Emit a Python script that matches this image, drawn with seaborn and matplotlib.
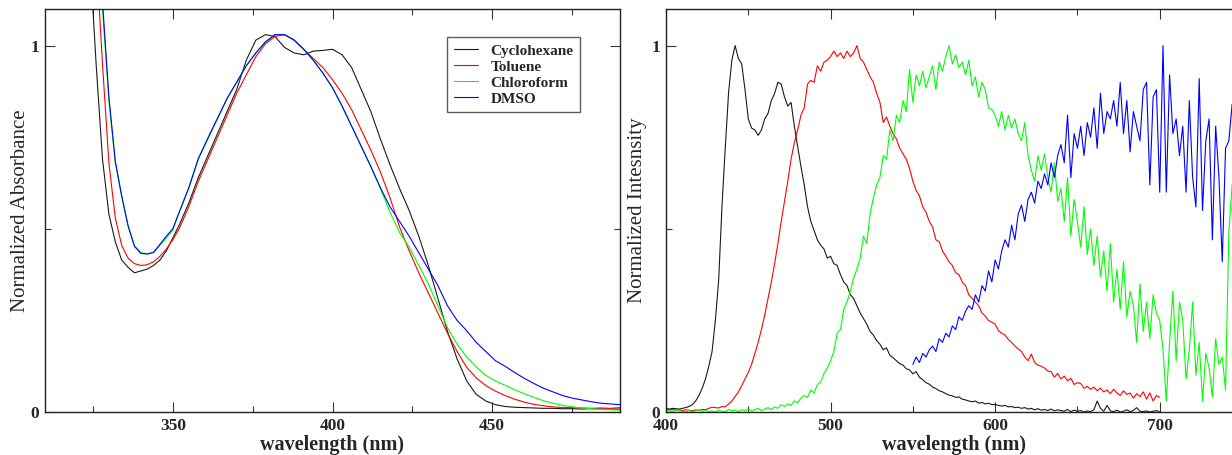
import numpy as np
import pandas as pd
import matplotlib
matplotlib.use("Agg")
import matplotlib.pyplot as plt
from matplotlib.ticker import FixedLocator, NullFormatter
import seaborn as sns

# ---------------------------------------------------------------- data
solvents = ["Cyclohexane", "Toluene", "Chloroform", "DMSO"]
colors = {"Cyclohexane": "#1a1a1a", "Toluene": "#ff0000",
          "Chloroform": "#00ff00", "DMSO": "#0000ff"}

# Absorption spectra (normalized): 2 nm steps up to 350 nm, then 3 nm steps
abs_wavelength = list(range(322, 351, 2)) + list(range(352, 491, 3))
abs_cyclohexane = [
    1.60, 1.25, 0.95, 0.69, 0.54, 0.465, 0.415, 0.395, 0.38, 0.385,
    0.39, 0.40, 0.415, 0.44, 0.475,
    0.51, 0.57, 0.64, 0.70, 0.76, 0.82, 0.88, 0.96, 1.015, 1.03,
    1.025, 0.995, 0.98, 0.975, 0.985, 0.987, 0.99, 0.975, 0.94, 0.88,
    0.82, 0.745, 0.675, 0.61, 0.55, 0.48, 0.40, 0.31, 0.22, 0.145,
    0.085, 0.048, 0.030, 0.020, 0.015, 0.013, 0.012, 0.011, 0.010, 0.010,
    0.009, 0.009, 0.008, 0.009, 0.008, 0.008, 0.008]
abs_toluene = [
    1.90, 1.60, 1.25, 0.95, 0.68, 0.53, 0.455, 0.42, 0.405, 0.40,
    0.402, 0.41, 0.425, 0.445, 0.47,
    0.50, 0.56, 0.63, 0.69, 0.75, 0.81, 0.87, 0.92, 0.97, 1.005,
    1.025, 1.03, 1.015, 0.99, 0.965, 0.94, 0.907, 0.87, 0.825, 0.77,
    0.715, 0.655, 0.585, 0.505, 0.44, 0.38, 0.325, 0.27, 0.215, 0.165,
    0.122, 0.093, 0.072, 0.057, 0.045, 0.035, 0.027, 0.021, 0.017, 0.014,
    0.012, 0.012, 0.011, 0.010, 0.011, 0.010, 0.012]
abs_chloroform = [
    2.00, 1.70, 1.40, 1.10, 0.85, 0.68, 0.59, 0.51, 0.455, 0.435,
    0.432, 0.435, 0.455, 0.475, 0.497,
    0.545, 0.61, 0.69, 0.745, 0.80, 0.855, 0.90, 0.945, 0.98, 1.01,
    1.03, 1.03, 1.015, 0.99, 0.96, 0.925, 0.885, 0.835, 0.78, 0.725,
    0.67, 0.61, 0.545, 0.49, 0.45, 0.40, 0.35, 0.29, 0.23, 0.185,
    0.150, 0.123, 0.100, 0.085, 0.073, 0.061, 0.050, 0.040, 0.031, 0.024,
    0.018, 0.014, 0.011, 0.009, 0.007, 0.006, 0.005]
abs_dmso = [
    2.00, 1.72, 1.42, 1.12, 0.86, 0.685, 0.59, 0.508, 0.452, 0.433,
    0.431, 0.436, 0.458, 0.48, 0.50,
    0.545, 0.612, 0.692, 0.748, 0.802, 0.856, 0.90, 0.945, 0.98, 1.01,
    1.03, 1.03, 1.015, 0.99, 0.96, 0.925, 0.885, 0.835, 0.78, 0.725,
    0.67, 0.612, 0.56, 0.52, 0.48, 0.435, 0.39, 0.345, 0.29, 0.25,
    0.222, 0.19, 0.165, 0.14, 0.125, 0.108, 0.092, 0.078, 0.065, 0.055,
    0.045, 0.038, 0.033, 0.028, 0.024, 0.022, 0.020]

# Emission spectra (normalized), sampled every 2 nm
em_step = 2
em_cyclohexane_start = 400
em_cyclohexane = [
    0.010, 0.008, 0.010, 0.009, 0.008, 0.010, 0.012, 0.015, 0.020, 0.030,
    0.045, 0.065, 0.090, 0.125, 0.165, 0.250, 0.360, 0.560, 0.720, 0.870,
    0.960, 1.000, 0.965, 0.950, 0.880, 0.800, 0.775, 0.770, 0.755, 0.770,
    0.800, 0.815, 0.850, 0.870, 0.900, 0.895, 0.860, 0.835, 0.845, 0.780,
    0.725, 0.670, 0.620, 0.560, 0.520, 0.495, 0.470, 0.455, 0.445, 0.420,
    0.425, 0.405, 0.400, 0.375, 0.355, 0.345, 0.320, 0.310, 0.290, 0.270,
    0.255, 0.240, 0.220, 0.210, 0.195, 0.185, 0.170, 0.175, 0.155, 0.148,
    0.140, 0.132, 0.128, 0.118, 0.115, 0.104, 0.110, 0.095, 0.088, 0.080,
    0.076, 0.068, 0.064, 0.058, 0.055, 0.050, 0.046, 0.044, 0.040, 0.041,
    0.035, 0.033, 0.030, 0.028, 0.030, 0.024, 0.026, 0.022, 0.024, 0.020,
    0.021, 0.018, 0.016, 0.018, 0.014, 0.015, 0.012, 0.013, 0.010, 0.012,
    0.008, 0.010, 0.006, 0.009, 0.005, 0.007, 0.004, 0.008, 0.003, 0.006,
    0.004, 0.002, 0.007, 0.001, 0.005, 0.002, 0.004, 0.000, 0.003, 0.001,
    0.006, 0.030, 0.010, 0.002, 0.018, 0.003, 0.001, 0.005, 0.000, 0.002,
    0.006, 0.001, 0.004, 0.012, 0.002, 0.001, 0.003, 0.000, 0.002, 0.004,
    0.000]
em_toluene_start = 400
em_toluene = [
    0.008, 0.006, 0.007, 0.005, 0.006, 0.004, 0.006, 0.005, 0.003, 0.006,
    0.004, 0.007, 0.006, 0.010, 0.013, 0.012, 0.011, 0.015, 0.014, 0.022,
    0.030, 0.042, 0.055, 0.072, 0.090, 0.108, 0.130, 0.160, 0.190, 0.225,
    0.265, 0.310, 0.355, 0.405, 0.460, 0.520, 0.575, 0.630, 0.690, 0.735,
    0.770, 0.810, 0.830, 0.895, 0.905, 0.900, 0.945, 0.930, 0.955, 0.960,
    0.970, 0.985, 0.970, 0.980, 0.965, 0.985, 0.970, 0.980, 1.000, 0.965,
    0.955, 0.935, 0.915, 0.900, 0.870, 0.845, 0.790, 0.805, 0.780, 0.760,
    0.745, 0.720, 0.705, 0.690, 0.665, 0.630, 0.605, 0.590, 0.560, 0.545,
    0.520, 0.505, 0.470, 0.465, 0.440, 0.425, 0.410, 0.400, 0.380, 0.375,
    0.355, 0.345, 0.320, 0.310, 0.300, 0.290, 0.270, 0.262, 0.250, 0.245,
    0.240, 0.222, 0.215, 0.210, 0.198, 0.190, 0.180, 0.172, 0.165, 0.150,
    0.140, 0.158, 0.135, 0.128, 0.125, 0.120, 0.112, 0.110, 0.095, 0.105,
    0.090, 0.098, 0.085, 0.092, 0.075, 0.080, 0.078, 0.065, 0.070, 0.062,
    0.068, 0.058, 0.065, 0.055, 0.060, 0.050, 0.062, 0.052, 0.045, 0.058,
    0.048, 0.052, 0.038, 0.050, 0.042, 0.055, 0.035, 0.052, 0.030, 0.045,
    0.040]
em_chloroform_start = 400
em_chloroform = [
    0.002, 0.004, 0.001, 0.005, 0.003, 0.002, 0.000, 0.004, 0.001, 0.003,
    0.006, 0.002, 0.004, 0.001, 0.003, 0.000, 0.005, 0.002, 0.001, 0.007,
    0.003, 0.005, 0.001, 0.006, 0.004, 0.008, 0.003, 0.006, 0.010, 0.004,
    0.008, 0.012, 0.006, 0.014, 0.010, 0.020, 0.015, 0.022, 0.018, 0.030,
    0.025, 0.038, 0.045, 0.040, 0.060, 0.052, 0.075, 0.082, 0.105, 0.120,
    0.140, 0.165, 0.215, 0.225, 0.280, 0.300, 0.330, 0.365, 0.390, 0.420,
    0.480, 0.460, 0.540, 0.585, 0.620, 0.640, 0.700, 0.690, 0.770, 0.740,
    0.810, 0.790, 0.850, 0.820, 0.935, 0.845, 0.920, 0.890, 0.930, 0.885,
    0.915, 0.945, 0.880, 0.955, 0.930, 0.970, 1.000, 0.950, 0.975, 0.940,
    0.955, 0.920, 0.960, 0.890, 0.915, 0.860, 0.900, 0.880, 0.830, 0.825,
    0.810, 0.780, 0.820, 0.770, 0.810, 0.775, 0.800, 0.760, 0.740, 0.790,
    0.700, 0.660, 0.630, 0.700, 0.660, 0.705, 0.640, 0.600, 0.680, 0.575,
    0.610, 0.520, 0.640, 0.480, 0.580, 0.520, 0.450, 0.560, 0.430, 0.500,
    0.400, 0.480, 0.370, 0.440, 0.330, 0.460, 0.300, 0.390, 0.280, 0.410,
    0.260, 0.330, 0.290, 0.190, 0.350, 0.220, 0.300, 0.200, 0.320, 0.270,
    0.250, 0.170, 0.030, 0.190, 0.330, 0.140, 0.300, 0.250, 0.090, 0.170,
    0.300, 0.100, 0.190, 0.030, 0.160, 0.120, 0.040, 0.200, 0.130, 0.150,
    0.060, 0.490, 0.620]
em_dmso_start = 550
em_dmso = [
    0.130, 0.150, 0.135, 0.160, 0.150, 0.170, 0.180, 0.165, 0.200, 0.190,
    0.215, 0.205, 0.235, 0.225, 0.260, 0.250, 0.275, 0.290, 0.280, 0.320,
    0.300, 0.345, 0.330, 0.385, 0.355, 0.415, 0.390, 0.440, 0.470, 0.450,
    0.510, 0.470, 0.540, 0.565, 0.520, 0.580, 0.600, 0.570, 0.630, 0.610,
    0.650, 0.620, 0.680, 0.640, 0.700, 0.730, 0.680, 0.810, 0.640, 0.760,
    0.720, 0.780, 0.700, 0.790, 0.750, 0.830, 0.720, 0.870, 0.760, 0.820,
    0.800, 0.850, 0.780, 0.900, 0.760, 0.850, 0.710, 0.820, 0.780, 0.740,
    0.880, 0.900, 0.620, 0.860, 0.880, 0.600, 1.000, 0.600, 0.920, 0.760,
    0.800, 0.700, 0.780, 0.600, 0.850, 0.640, 0.560, 0.910, 0.550, 0.740,
    0.800, 0.470, 0.780, 0.640, 0.410, 0.720, 0.740, 0.840]

abs_xlim = (310, 490)
abs_major = [350, 400, 450]
abs_minor = [325, 375, 425, 475]
em_xlim = (400, 750)
em_major = [400, 500, 600, 700]
em_minor = [450, 550, 650, 750]
y_major = [0, 1]
y_minor = [0.5]


def long_frame(series):
    frames = []
    for name, wl, vals in series:
        frames.append(pd.DataFrame({"wavelength": wl, "value": vals,
                                    "solvent": name}))
    return pd.concat(frames, ignore_index=True)


def em_grid(start, vals):
    return start + em_step * np.arange(len(vals))


abs_df = long_frame([
    ("Cyclohexane", abs_wavelength, abs_cyclohexane),
    ("Toluene", abs_wavelength, abs_toluene),
    ("Chloroform", abs_wavelength, abs_chloroform),
    ("DMSO", abs_wavelength, abs_dmso),
])
em_df = long_frame([
    ("Cyclohexane", em_grid(em_cyclohexane_start, em_cyclohexane),
     em_cyclohexane),
    ("Toluene", em_grid(em_toluene_start, em_toluene), em_toluene),
    ("Chloroform", em_grid(em_chloroform_start, em_chloroform),
     em_chloroform),
    ("DMSO", em_grid(em_dmso_start, em_dmso), em_dmso),
])

# ---------------------------------------------------------------- style
sns.set_style("ticks")
plt.rcParams["font.family"] = ["Liberation Serif", "DejaVu Serif"]
plt.rcParams["axes.linewidth"] = 1.0

fig = plt.figure(figsize=(12.32, 4.55), dpi=100)
ax_abs = fig.add_axes([45 / 1232, 43 / 455, 575 / 1232, 403 / 455])
ax_em = fig.add_axes([666 / 1232, 43 / 455, 576 / 1232, 403 / 455])


def style_axis(ax, xlim, major, minor, ylabel, ypad):
    ax.set_xlim(*xlim)
    ax.set_ylim(0, 1.1)
    ax.xaxis.set_major_locator(FixedLocator(major))
    ax.xaxis.set_minor_locator(FixedLocator(minor))
    ax.yaxis.set_major_locator(FixedLocator(y_major))
    ax.yaxis.set_minor_locator(FixedLocator(y_minor))
    ax.xaxis.set_minor_formatter(NullFormatter())
    ax.yaxis.set_minor_formatter(NullFormatter())
    ax.tick_params(which="both", direction="in", top=True, right=True,
                   width=0.8, color="#333333")
    ax.tick_params(which="major", length=7.5)
    ax.tick_params(which="minor", length=4.2)
    ax.tick_params(axis="x", which="major", pad=4)
    ax.tick_params(axis="y", which="major", pad=4)
    for lbl in ax.get_xticklabels() + ax.get_yticklabels():
        lbl.set_fontsize(12.5)
        lbl.set_fontweight("bold")
    for sp in ax.spines.values():
        sp.set_visible(True)
        sp.set_color("#222222")
    ax.set_xlabel("wavelength (nm)", fontsize=14.5, fontweight="bold",
                  labelpad=1)
    ax.set_ylabel(ylabel, fontsize=15, labelpad=ypad)


sns.lineplot(data=abs_df, x="wavelength", y="value", hue="solvent",
             hue_order=solvents, palette=colors, estimator=None,
             linewidth=0.8, ax=ax_abs)
sns.lineplot(data=em_df, x="wavelength", y="value", hue="solvent",
             hue_order=solvents, palette=colors, estimator=None,
             linewidth=0.8, legend=False, ax=ax_em)

style_axis(ax_abs, abs_xlim, abs_major, abs_minor,
           "Normalized Absorbance", 0.5)
style_axis(ax_em, em_xlim, em_major, em_minor,
           "Normalized Intesnsity", 3.5)

leg = ax_abs.legend(loc="upper left", bbox_to_anchor=(0.699, 0.9305),
                    borderaxespad=0, frameon=True, fancybox=False,
                    prop={"weight": "bold", "size": 11},
                    handlelength=1.6, handletextpad=0.8, labelspacing=0.15,
                    borderpad=0.45)
leg.get_frame().set_edgecolor("#333333")
leg.get_frame().set_linewidth(1.0)
for line in leg.get_lines():
    line.set_linewidth(0.8)

fig.savefig("out.png", dpi=100)
